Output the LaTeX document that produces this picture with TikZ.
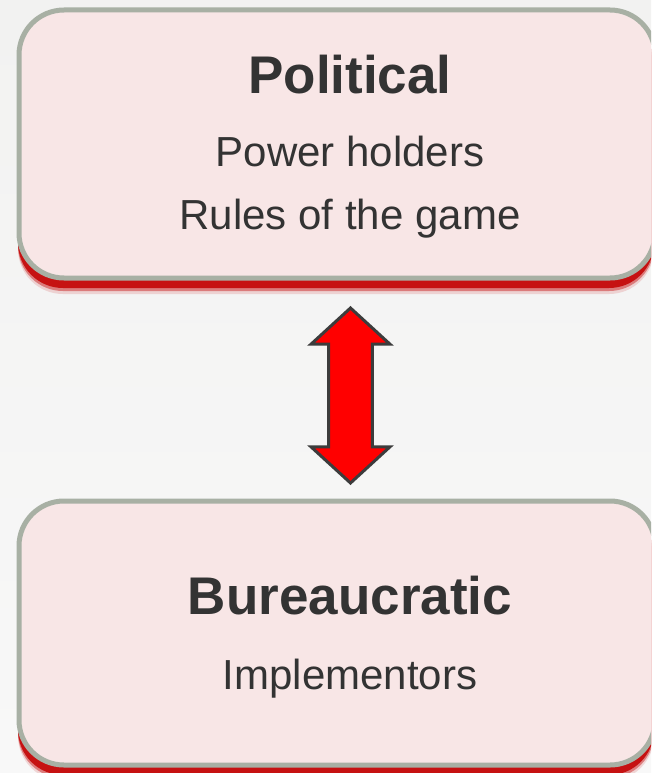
\documentclass[tikz,border=0pt]{standalone}
\usepackage{fontspec}
\setmainfont{Liberation Sans}
\usetikzlibrary{shapes.arrows}

\definecolor{boxfill}{RGB}{248,230,230}
\definecolor{boxline}{RGB}{168,176,164}
\definecolor{shadowred}{RGB}{198,18,18}
\definecolor{textgray}{RGB}{51,51,51}
\definecolor{arrowline}{RGB}{60,60,60}
\definecolor{bgtop}{RGB}{242,242,241}
\definecolor{bgbottom}{RGB}{248,248,248}

\tikzset{
  box/.style={draw=boxline, line width=5pt, fill=boxfill, rounded corners=45pt,
    minimum width=636pt, inner sep=0pt,
    preaction={fill=shadowred, opacity=.15, transform canvas={shift={(-1pt,-16pt)}}},
    preaction={fill=shadowred, opacity=.45, transform canvas={shift={(-1pt,-13pt)}}},
    preaction={fill=shadowred, transform canvas={shift={(-1pt,-10pt)}}}},
  title/.style={anchor=base, text=textgray, font=\bfseries\fontsize{53}{60}\selectfont},
  entry/.style={anchor=base, text=textgray, font=\fontsize{42}{48}\selectfont},
  link/.style={double arrow, draw=arrowline, line width=3pt, fill=red, inner sep=19pt,
    minimum height=175pt, minimum width=79pt, double arrow head extend=16.5pt,
    double arrow tip angle=95, shape border rotate=90}
}

\begin{document}
\begin{tikzpicture}[x=1pt, y=-1pt]
  \useasboundingbox (0,0) rectangle (651,773);
  \clip (0,0) rectangle (651,773);
  \fill[top color=bgtop, bottom color=bgbottom] (0,0) rectangle (651,773);

  % upper box
  \node[box, minimum height=268pt] (political) at (337,144) {};
  \node[title] (poltitle) at (350,94) {Political};
  \node[entry] (holders) at (350,166) {Power holders};
  \node[entry] (rules) at (350,229) {Rules of the game};

  % lower box
  \node[box, minimum height=264pt] (bureau) at (337,633) {};
  \node[title] (burtitle) at (350,614) {Bureaucratic};
  \node[entry] (implement) at (350,689) {Implementors};

  % two-way link
  \node[link] (swap) at (350.5,395.5) {};
\end{tikzpicture}
\end{document}
